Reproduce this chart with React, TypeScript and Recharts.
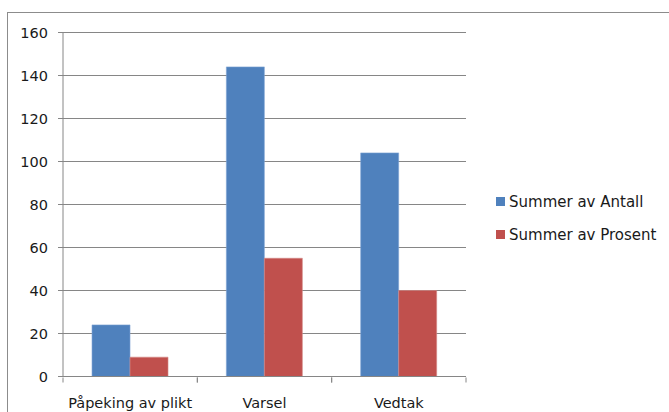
import React from "react";
import { BarChart, Bar, XAxis, YAxis, CartesianGrid, Legend } from "recharts";

const categories = ["Påpeking av plikt", "Varsel", "Vedtak"];
const antall = [24, 144, 104];
const prosent = [9, 55, 40];
const yTicks = [0, 20, 40, 60, 80, 100, 120, 140, 160];
const seriesNames = ["Summer av Antall", "Summer av Prosent"];

const data = categories.map((c, i) => ({ name: c, antall: antall[i], prosent: prosent[i] }));

const FONT = "DejaVu Sans";
const AXIS = "#868686";
const BLUE = "#4F81BD";
const RED = "#C0504D";

const CatTick = (props: any) => {
  const { x, y, payload } = props;
  const off = payload.offset || 0;
  return (
    <g>
      <line x1={x - off} y1={y - 7} x2={x - off} y2={y - 2} stroke={AXIS} strokeWidth={1} />
      <line x1={x + off} y1={y - 7} x2={x + off} y2={y - 2} stroke={AXIS} strokeWidth={1} />
      <text x={x} y={y + 23} textAnchor="middle" fontFamily={FONT} fontSize={14.5} fill="#1a1a1a">
        {payload.value}
      </text>
    </g>
  );
};

const renderLegend = () => (
  <div style={{ fontFamily: FONT, fontSize: 15, color: "#1a1a1a" }}>
    {seriesNames.map((n, i) => (
      <div key={n} style={{ display: "flex", alignItems: "center", height: 33 }}>
        <span style={{ width: 9, height: 9, background: i === 0 ? BLUE : RED, marginRight: 4, display: "inline-block" }} />
        <span>{n}</span>
      </div>
    ))}
  </div>
);

export default function App() {
  return (
    <div style={{ position: "absolute", left: 0, top: 0, width: 669, height: 412, background: "#fff", overflow: "hidden" }}>
      <div style={{ position: "absolute", left: 7, top: 12, width: 670, height: 420, borderLeft: "1.5px solid #8c8c8c", borderTop: "1.5px solid #8c8c8c" }} />
      <div style={{ position: "absolute", left: 0, top: 0 }}>
        <BarChart
          width={669}
          height={412}
          data={data}
          margin={{ top: 32.5, right: 33, bottom: 0, left: 0 }}
          barCategoryGap="21.6%"
          barGap={0}
        >
          <CartesianGrid vertical={false} stroke={AXIS} strokeWidth={1} />
          <XAxis
            dataKey="name"
            height={35.5}
            axisLine={{ stroke: AXIS }}
            tickLine={false}
            tick={<CatTick />}
            interval={0}
          />
          <YAxis
            width={63}
            domain={[0, 160]}
            ticks={yTicks}
            interval={0}
            axisLine={{ stroke: AXIS }}
            tickLine={{ stroke: AXIS }}
            tickSize={5}
            tickMargin={10}
            tick={{ fontFamily: FONT, fontSize: 14.5, fill: "#1a1a1a" }}
          />
          <Legend
            layout="vertical"
            align="right"
            verticalAlign="middle"
            content={renderLegend}
            wrapperStyle={{ left: 496, top: 185, width: 170, height: 66 }}
          />
          <Bar dataKey="antall" name={seriesNames[0]} fill={BLUE} stroke="#7fa3d3" strokeWidth={0.6} isAnimationActive={false} />
          <Bar dataKey="prosent" name={seriesNames[1]} fill={RED} stroke="#d38886" strokeWidth={0.6} isAnimationActive={false} />
        </BarChart>
      </div>
    </div>
  );
}
